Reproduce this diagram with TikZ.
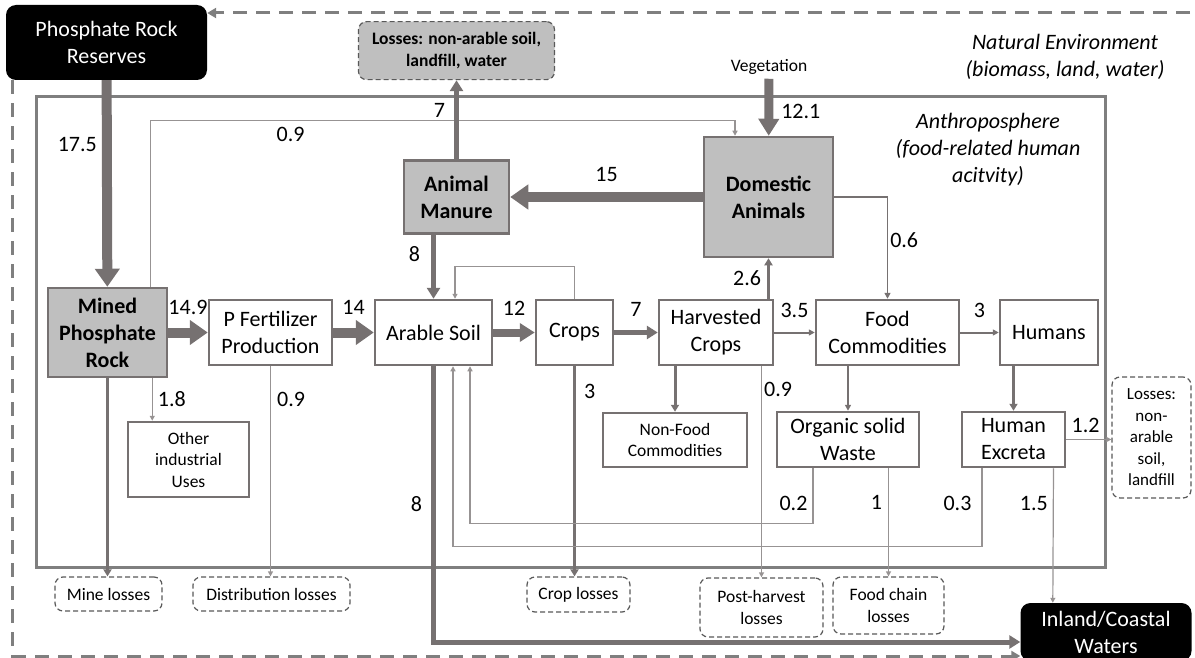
\documentclass[tikz,border=0pt]{standalone}
\usepackage{fontspec}
\setmainfont{Carlito}
\usetikzlibrary{arrows.meta,positioning}
\definecolor{flowgray}{HTML}{767171}
\definecolor{boxgray}{HTML}{BFBFBF}
\definecolor{thingray}{HTML}{979393}
\definecolor{dashgray}{HTML}{595959}
\definecolor{envgray}{HTML}{7F7F7F}
\newcommand{\procfont}{\fontsize{22}{27}\selectfont}
\newcommand{\lossfont}{\fontsize{17.5}{21.5}\selectfont}
\tikzset{
  proc/.style={draw=flowgray,line width=2.5pt,fill=white,align=center,font=\procfont,inner sep=1pt},
  keyproc/.style={proc,fill=boxgray,font=\procfont\bfseries},
  sideproc/.style={proc,font=\lossfont},
  losses/.style={draw=dashgray,line width=1.2pt,dash pattern=on 5pt off 3pt,rounded corners=8pt,fill=white,align=center,font=\lossfont,inner sep=1pt},
  pool/.style={fill=black,rounded corners=10pt,text=white,align=center,font=\procfont},
  sphere/.style={draw=envgray,line width=3pt,inner sep=0pt},
  bigflow/.style={draw=flowgray,line width=10pt,-{Triangle[length=18pt,width=24pt]}},
  midflow/.style={draw=flowgray,line width=5pt,-{Triangle[length=11pt,width=13pt]}},
  smallflow/.style={draw=flowgray,line width=3pt,-{Triangle[length=7pt,width=8pt]}},
  lightflow/.style={draw=flowgray,line width=2pt,-{Triangle[length=6pt,width=6pt]}},
  thinflow/.style={draw=thingray,line width=1.2pt,-{Triangle[length=5pt,width=5pt]}},
  envflow/.style={draw=envgray,line width=3pt,dash pattern=on 14pt off 9pt,-{Triangle[length=9pt,width=10pt]}},
  num/.style={font=\procfont,inner sep=0pt},
  note/.style={align=center,font=\procfont\itshape}
}

\begin{document}
\begin{tikzpicture}[x=1pt,y=-1pt]
\useasboundingbox (0,0) rectangle (1195,658);

% boundaries
\node[sphere,minimum width=1069pt,minimum height=470pt] (anthro) at (570.5,332) {};
\node[note] (natenv) at (1065,57) {Natural Environment\\(biomass, land, water)};
\node[note] (anthrotxt) at (988,150) {Anthroposphere\\(food-related human\\acitvity)};

\node[pool,minimum width=201pt,minimum height=75pt] (reserves) at (106.5,42.5) {Phosphate Rock\\Reserves};
\node[pool,minimum width=171pt,minimum height=58pt] (waters) at (1106,632) {Inland/Coastal\\Waters};

% main chain
\node[keyproc,minimum width=119pt,minimum height=89pt] (mined) at (107.5,332.5) {Mined\\Phosphate\\Rock};
\node[proc,minimum width=123pt,minimum height=65pt,right=39.5pt of mined] (pfert) {P Fertilizer\\Production};
\node[proc,minimum width=117pt,minimum height=65pt,right=40.5pt of pfert] (arable) {Arable Soil};
\node[proc,minimum width=77pt,minimum height=65pt,right=41.5pt of arable] (crops) {Crops};
\node[proc,minimum width=114pt,minimum height=65pt,right=43.5pt of crops] (harvest) {Harvested\\Crops};
\node[proc,minimum width=143pt,minimum height=65pt,right=40.5pt of harvest] (food) {Food\\Commodities};
\node[proc,minimum width=98pt,minimum height=65pt,right=38.5pt of food] (humans) {Humans};

% animals
\node[keyproc,minimum width=129pt,minimum height=120pt] (domestic) at (768.5,197) {Domestic\\Animals};
\node[keyproc,minimum width=105pt,minimum height=73pt,left=192.5pt of domestic] (manure) {Animal\\Manure};
\node[losses,fill=boxgray,font=\lossfont\bfseries,minimum width=196pt,minimum height=58pt,above=79pt of manure] (losstop) {Losses: non-arable soil,\\landfill, water};
\node[font=\lossfont,inner sep=4pt] (veg) at (769,67) {Vegetation};

% side processes
\node[sideproc,minimum width=121pt,minimum height=75pt] (other) at (188.5,459.5) {Other\\industrial\\Uses};
\node[sideproc,minimum width=144pt,minimum height=54pt] (nonfood) at (675,440) {Non-Food\\Commodities};
\node[proc,minimum width=142pt,minimum height=55pt] (organic) at (848,439.5) {Organic solid\\Waste};
\node[proc,minimum width=103pt,minimum height=55pt] (excreta) at (1013.5,439.5) {Human\\Excreta};
\node[losses,font=\fontsize{17}{21.5}\selectfont,minimum width=79pt,minimum height=121pt] (lossright) at (1151.5,437.5) {Losses:\\non-\\arable\\soil,\\landfill};

% losses
\node[losses,minimum width=107pt,minimum height=34pt] (mine) at (108.5,594) {Mine losses};
\node[losses,minimum width=157pt,minimum height=34pt] (dist) at (271.5,594) {Distribution losses};
\node[losses,minimum width=103pt,minimum height=35pt] (croploss) at (578.5,594.5) {Crop losses};
\node[losses,minimum width=123pt,minimum height=59pt] (postharv) at (761.5,607.5) {Post-harvest\\losses};
\node[losses,minimum width=111pt,minimum height=57pt] (foodchain) at (888.5,605.5) {Food chain\\losses};

% natural cycle
\coordinate (envtop) at (1190,13);
\draw[envflow] (envtop) -- (envtop -| reserves.east);
\draw[envflow] ([xshift=7pt]reserves.south west) |- ([yshift=-24pt]waters.west);

% flows
\coordinate (minedtap) at ([xshift=-16pt]mined.south east);
\draw[bigflow] (reserves) -- node[num,pos=0.31,left=5pt] (l175) {17.5} (mined);
\draw[thinflow] ([xshift=-18pt]mined.north east) -- ++(0,-166.5) -| node[num,pos=0.12,below=6pt] (l09a) {0.9} ([xshift=-33.5pt]domestic.north);
\draw[bigflow] (mined) -- node[num,above=13pt] (l149) {14.9} (pfert);
\draw[bigflow] (pfert) -- node[num,above=13pt] (l14) {14} (arable);
\draw[bigflow,line width=8pt,-{Triangle[length=15pt,width=18pt]}] (arable) -- node[num,above=13pt] (l12) {12} (crops);
\draw[midflow] (crops) -- node[num,above=14pt] (l7a) {7} (harvest);
\draw[lightflow] (harvest) -- node[num,above=14pt] (l35) {3.5} (food);
\draw[lightflow] (food) -- node[num,above=14pt] (l3a) {3} (humans);

\draw[bigflow,line width=9pt,-{Triangle[length=17pt,width=20pt]}] (veg) -- node[num,pos=0.57,right=8pt] (l121) {12.1} (domestic);
\draw[bigflow] (domestic) -- node[num,above=10pt] (l15) {15} (manure);
\draw[midflow] (manure) -- node[num,pos=0.62,left=9pt] (l7b) {7} (losstop);
\draw[midflow] (manure.south -| arable.north) -- node[num,pos=0.3,left=11pt] (l8a) {8} (arable.north);
\draw[smallflow] (domestic.south |- harvest.north) -- node[num,left=6pt] (l26) {2.6} (domestic.south);
\draw[lightflow,line width=1.5pt] (domestic.east) -| node[num,pos=0.71,right=2pt] (l06) {0.6} (food.north);
\draw[thinflow] (crops.north) -- ++(0,-32) -| ([xshift=21.5pt]arable.north);

\draw[smallflow] (mined.south) -- (mined.south |- mine.north);
\draw[thinflow] (minedtap) -- node[num,right=5pt] (l18) {1.8} (minedtap |- other.north);
\draw[thinflow] (pfert.south) -- node[num,pos=0.16,right=6pt] (l09b) {0.9} (pfert.south |- dist.north);
\draw[midflow] (arable.south) |- node[num,pos=0.249,left=9pt] (l8b) {8} ([yshift=-10pt]waters.west);
\draw[smallflow] (crops.south) -- node[num,pos=0.12,right=8pt] (l3b) {3} (crops.south |- croploss.north);
\draw[smallflow] (nonfood.north |- harvest.south) -- (nonfood.north);
\draw[thinflow] (postharv.north |- harvest.south) -- node[num,pos=0.11,right=2pt] (l09c) {0.9} (postharv.north);
\draw[lightflow] (organic.north |- food.south) -- (organic.north);
\draw[thinflow] (foodchain.north |- organic.south) -- node[num,pos=0.32,left=6pt] (l1) {1} (foodchain.north);
\draw[thinflow] ([xshift=-35pt]organic.south) -- node[num,pos=0.64,left=5pt] (l02) {0.2} ++(0,55) -| ([xshift=36.5pt]arable.south);
\draw[thinflow] ([xshift=-31.5pt]excreta.south) -- node[num,pos=0.45,left=10pt] (l03) {0.3} ++(0,78) -| ([xshift=19.5pt]arable.south);
\draw[smallflow] (excreta.north |- humans.south) -- (excreta.north);
\draw[thinflow] (excreta.east) -- node[num,pos=0.43,above=6pt] (l12b) {1.2} (excreta.east -| lossright.west);
\draw[thinflow] ([xshift=40pt]excreta.south) -- node[num,pos=0.26,left=5pt] (l15b) {1.5} ([xshift=32.5pt]waters.north west);

\end{tikzpicture}
\end{document}
